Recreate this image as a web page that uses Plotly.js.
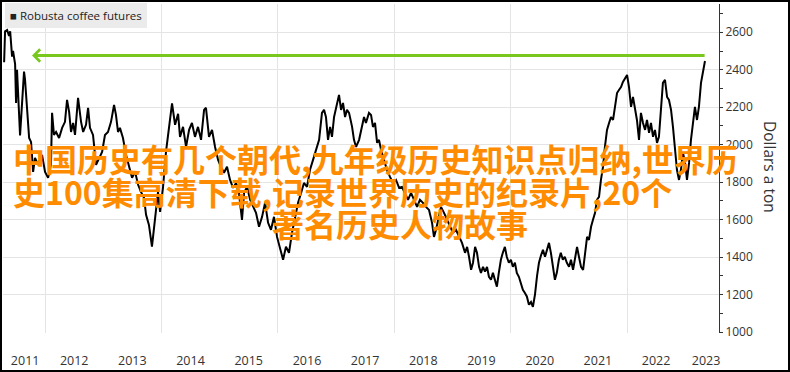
<!DOCTYPE html>
<html><head><meta charset="utf-8">
<script src="https://cdn.plot.ly/plotly-3.0.1.min.js"></script>
<style>
html,body{margin:0;padding:0;background:#fff}
#wrap{position:relative;width:790px;height:372px;overflow:hidden}
#chart{width:790px;height:372px}
#frame{position:absolute;left:0;top:0;width:790px;height:372px;box-sizing:border-box;border:2px solid #000;pointer-events:none}
</style>
</head><body>
<div id="wrap"><div id="chart"></div><div id="frame"></div></div>
<script>
// ---- data ----
const seriesName = 'Robusta coffee futures';
const axisTitle = 'Dollars a ton';

const dates = [
 '2011-04-19','2011-04-25','2011-05-08','2011-05-20','2011-05-27','2011-06-08','2011-06-14','2011-06-27','2011-07-03','2011-07-09',
 '2011-07-28','2011-08-10','2011-08-22','2011-08-28','2011-09-10','2011-09-23','2011-10-05','2011-10-18','2011-10-30','2011-11-18','2011-12-13',
 '2012-01-01','2012-01-20','2012-02-07','2012-02-14','2012-02-26','2012-03-10','2012-03-29','2012-04-17','2012-05-05','2012-05-18','2012-05-31',
 '2012-06-12','2012-06-25','2012-07-07','2012-07-26','2012-08-14','2012-08-27','2012-09-14','2012-09-27','2012-10-09','2012-10-28','2012-11-16',
 '2012-12-05','2012-12-24',
 '2013-01-11','2013-01-30','2013-02-18','2013-03-09','2013-03-21','2013-04-03','2013-04-15','2013-05-04','2013-05-23','2013-06-11','2013-06-30',
 '2013-07-19','2013-08-07','2013-08-25','2013-09-13','2013-09-26','2013-10-14','2013-11-02','2013-11-21','2013-12-10','2013-12-23',
 '2014-01-10','2014-01-29','2014-02-17','2014-03-08','2014-03-27','2014-04-15','2014-04-27','2014-05-16','2014-06-04','2014-06-23','2014-07-11',
 '2014-07-30','2014-08-18','2014-09-06','2014-09-25','2014-10-07','2014-10-26','2014-11-14','2014-12-03','2014-12-22',
 '2015-01-09','2015-01-28','2015-02-16','2015-03-07','2015-03-26','2015-04-14','2015-05-02','2015-05-21','2015-06-03','2015-06-22','2015-07-11',
 '2015-07-29','2015-08-17','2015-09-05','2015-09-24','2015-10-13','2015-11-01','2015-11-19','2015-12-08','2015-12-27',
 '2016-01-15','2016-02-03','2016-02-21','2016-03-11','2016-03-30','2016-04-18','2016-05-07','2016-05-26','2016-06-13','2016-07-02','2016-07-21',
 '2016-08-09','2016-08-28','2016-09-16','2016-10-04','2016-10-17','2016-10-29','2016-11-11','2016-11-24','2016-12-06','2016-12-19',
 '2017-01-06','2017-01-19','2017-02-01','2017-02-13','2017-02-26','2017-03-10','2017-03-23','2017-04-11','2017-04-23','2017-05-06','2017-05-25',
 '2017-06-12','2017-06-25','2017-07-07','2017-07-26','2017-08-08','2017-08-20','2017-09-02','2017-09-15','2017-09-27','2017-10-10','2017-10-28',
 '2017-11-16','2017-12-05','2017-12-24',
 '2018-01-12','2018-01-31','2018-02-18','2018-03-09','2018-03-28','2018-04-16','2018-05-05','2018-05-24','2018-06-11','2018-06-30','2018-07-19',
 '2018-08-07','2018-08-26','2018-09-07','2018-09-20','2018-10-02','2018-10-21','2018-11-09','2018-11-28','2018-12-17',
 '2019-01-04','2019-01-23','2019-02-11','2019-03-02','2019-03-21','2019-04-03','2019-04-15','2019-04-28','2019-05-10','2019-05-23','2019-06-04',
 '2019-06-17','2019-06-29','2019-07-12','2019-07-24','2019-08-06','2019-08-18','2019-08-31','2019-09-12','2019-09-24','2019-10-07','2019-10-19',
 '2019-11-01','2019-11-13','2019-11-26','2019-12-08','2019-12-21',
 '2020-01-03','2020-01-15','2020-01-28','2020-02-09','2020-02-22','2020-03-05','2020-03-18','2020-03-30','2020-04-12','2020-04-25','2020-05-08',
 '2020-05-20','2020-06-02','2020-06-15','2020-06-27','2020-07-10','2020-07-22','2020-08-04','2020-08-16','2020-08-29','2020-09-10','2020-09-23',
 '2020-10-05','2020-10-17','2020-10-30','2020-11-11','2020-11-24','2020-12-06','2020-12-19',
 '2021-01-02','2021-01-14','2021-01-27','2021-02-08','2021-02-21','2021-03-05','2021-03-18','2021-03-31','2021-04-12','2021-04-25','2021-05-07',
 '2021-05-20','2021-06-01','2021-06-14','2021-06-26','2021-07-09','2021-07-21','2021-08-03','2021-08-15','2021-08-28','2021-09-10','2021-09-22',
 '2021-10-05','2021-10-17','2021-10-30','2021-11-11','2021-11-24','2021-12-06','2021-12-19',
 '2022-01-01','2022-01-13','2022-01-26','2022-02-07','2022-02-20','2022-03-04','2022-03-17','2022-03-29','2022-04-11','2022-04-24','2022-05-06',
 '2022-05-19','2022-05-31','2022-06-13','2022-06-25','2022-07-08','2022-07-20','2022-08-02','2022-08-14','2022-08-27','2022-09-09','2022-09-21',
 '2022-10-04','2022-10-16','2022-10-29','2022-11-10','2022-11-23','2022-12-05','2022-12-18','2022-12-31',
 '2023-01-12','2023-01-25','2023-02-06','2023-02-19','2023-03-03','2023-03-16','2023-03-28','2023-04-10','2023-04-23','2023-05-05'
];

const prices = [
 2440,2605,2612,2580,2605,2470,2500,2430,2223,2400,
 2050,2210,2390,2350,2197,2036,2015,1855,1930,1892,1946,
 1855,1823,1892,2170,2052,2068,2036,2090,2122,2239,2175,
 2068,2116,2052,2250,2122,2068,2106,2197,2090,2052,1892,
 1930,1962,
 2052,2068,2122,2212,2159,2068,2090,2036,1946,1876,1823,
 1855,1786,1748,1716,1626,1572,1456,1588,1748,1642,
 1770,1962,2090,2220,2106,2165,2042,2095,1988,2079,2116,
 2042,2095,2026,2186,2197,2042,2079,1988,1919,
 1882,1850,1882,1812,1770,1796,1743,1599,1743,1775,1706,
 1668,1636,1562,1615,1690,1583,1546,1615,1508,
 1439,1386,1455,1423,1530,1615,1690,1743,1796,1775,1866,
 1919,1972,2026,2170,2186,2148,2026,2095,2042,2148,
 2223,2266,2186,2223,2148,2186,2170,2095,2026,1988,2026,
 2095,2148,2116,2170,2159,2095,2116,2010,2026,1972,1919,
 1866,1828,1796,
 1812,1770,1775,1743,1706,1743,1706,1668,1706,1690,1668,
 1652,1583,1508,1546,1599,1668,1636,1599,1562,
 1530,1546,1508,1476,1423,1455,1402,1332,1370,1455,1423,
 1348,1316,1348,1322,1348,1295,1279,1316,1279,1242,1316,
 1386,1423,1455,1402,1370,
 1386,1348,1370,1316,1295,1263,1226,1210,1190,1146,1160,
 1135,1200,1300,1370,1410,1439,1402,1439,1476,1423,1348,
 1279,1316,1386,1423,1386,1402,1370,
 1348,1386,1332,1402,1455,1402,1348,1332,1423,1508,1492,
 1562,1599,1636,1706,1722,1812,1882,1988,2079,2116,2148,
 2132,2202,2276,2292,2308,2335,2356,
 2372,2308,2202,2255,2186,2132,2026,2170,2116,2079,2132,
 2063,2116,2042,2079,2010,2042,2202,2330,2346,2255,2239,
 2186,2095,1988,1866,1812,1866,1956,1903,
 1812,1903,2026,2116,2202,2132,2202,2330,2399,2447
];

const yearLabels = ['2011','2012','2013','2014','2015','2016','2017','2018','2019','2020','2021','2022','2023'];
const yearLabelDates = ['2011-08-29','2012-07-02','2013-07-02','2014-07-02','2015-07-02','2016-07-02','2017-07-02',
                        '2018-07-02','2019-07-02','2020-07-02','2021-07-02','2022-07-02','2023-05-12'];
const gridDates = ['2012-01-01','2014-01-01','2016-01-01','2018-01-01','2020-01-01','2022-01-01'];
const yTickVals = [1000,1200,1400,1600,1800,2000,2200,2400,2600];

const targetLevel = 2476;
const arrowTail = '2023-05-12';
const arrowTip = '2011-10-11';

const overlayLines = [
 '中国历史有几个朝代,九年级历史知识点归纳,世界历',
 '史100集高清下载,记录世界历史的纪录片,20个',
 '著名历史人物故事'
];

// ---- chart ----
const trace = {
  x: dates, y: prices, type: 'scatter', mode: 'lines', name: seriesName,
  line: {color: '#000000', width: 2}, hoverinfo: 'skip'
};

const cjkFont = {family: '"Noto Sans CJK SC", sans-serif', size: 32, color: '#ff8c00', weight: 700};

const layout = {
  width: 790, height: 372,
  margin: {l: 3, r: 71, t: 4, b: 39, pad: 0},
  paper_bgcolor: '#ffffff', plot_bgcolor: '#ffffff',
  showlegend: false,
  font: {family: '"Open Sans", sans-serif', size: 12, color: '#333333'},
  xaxis: {
    type: 'date',
    range: ['2011-04-12', '2023-08-01'],
    tickmode: 'array', tickvals: yearLabelDates, ticktext: yearLabels,
    ticks: 'outside', ticklen: 16, tickcolor: 'rgba(0,0,0,0)',
    showgrid: false, zeroline: false, showline: false,
    tickfont: {size: 12.5, color: '#333333'},
    minor: {tickmode: 'array', tickvals: gridDates, showgrid: true, gridcolor: '#e4e4e4', gridwidth: 1, ticks: ''}
  },
  yaxis: {
    side: 'right',
    range: [995, 2751],
    tickmode: 'array', tickvals: yTickVals,
    ticks: 'outside', ticklen: 3, tickcolor: '#333333', tickwidth: 1,
    showgrid: true, gridcolor: '#e4e4e4', gridwidth: 1,
    zeroline: false, showline: true, linecolor: '#333333', linewidth: 1,
    tickfont: {size: 12, color: '#333333'},
    minor: {dtick: 100, tick0: 1000, ticks: 'outside', ticklen: 3, tickcolor: '#333333', showgrid: false}
  },
  annotations: [
    {xref: 'paper', yref: 'paper', x: 0.003, y: 1.003, xanchor: 'left', yanchor: 'top',
     text: '■ ' + seriesName, showarrow: false, bgcolor: '#ebebeb', borderpad: 5, borderwidth: 0,
     font: {family: '"Open Sans", sans-serif', size: 11.5, color: '#222222'}},
    {xref: 'paper', yref: 'paper', x: 1.071, y: 0.505, xanchor: 'center', yanchor: 'middle',
     text: axisTitle, textangle: 90, showarrow: false,
     font: {family: '"Open Sans", sans-serif', size: 15.5, color: '#333333'}},
    {x: arrowTip, y: targetLevel, ax: arrowTail, ay: targetLevel, axref: 'x', ayref: 'y',
     xref: 'x', yref: 'y', text: '', showarrow: true, arrowhead: 4, arrowsize: 0.75,
     arrowwidth: 3.2, arrowcolor: '#78c81e', standoff: 0, startstandoff: 0},
    {xref: 'paper', yref: 'paper', x: 0.014, y: 0.5334, xanchor: 'left', yanchor: 'middle',
     text: overlayLines[0], showarrow: false, borderpad: 0, borderwidth: 0, font: cjkFont},
    {xref: 'paper', yref: 'paper', x: 0.014, y: 0.4316, xanchor: 'left', yanchor: 'middle',
     text: overlayLines[1], showarrow: false, borderpad: 0, borderwidth: 0, font: cjkFont},
    {xref: 'paper', yref: 'paper', x: 0.3757, y: 0.3343, xanchor: 'left', yanchor: 'middle',
     text: overlayLines[2], showarrow: false, borderpad: 0, borderwidth: 0, font: cjkFont}
  ]
};

Plotly.newPlot('chart', [trace], layout, {staticPlot: true, displayModeBar: false});
</script>
</body></html>
